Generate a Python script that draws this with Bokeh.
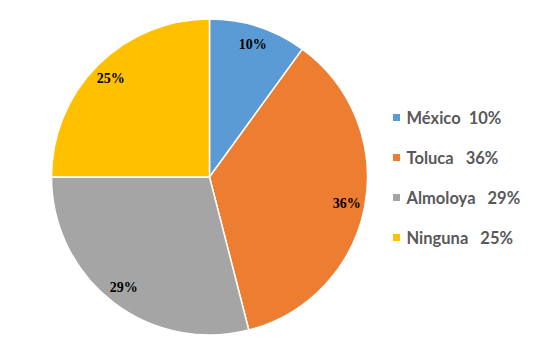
import numpy as np
from bokeh.plotting import figure
from bokeh.embed import file_html
from bokeh.resources import INLINE
from bokeh.core.properties import value

categories = ["México", "Toluca", "Almoloya", "Ninguna"]
percents = [10, 36, 29, 25]
colors = ["#5B9BD5", "#ED7D31", "#A5A5A5", "#FFC000"]
gaps = ["\u00a0\u00a0", "\u00a0\u00a0\u00a0", "\u00a0\u00a0\u00a0", "\u00a0\u00a0\u00a0"]

W, H = 534, 343
p = figure(width=W, height=H, x_range=(0, W), y_range=(0, H),
           output_backend="svg", toolbar_location=None, min_border=0)
p.axis.visible = False
p.grid.visible = False
p.outline_line_color = None
p.background_fill_color = "white"

cx, cy, r = 209, H - 176.5, 158
frac = np.array(percents) / sum(percents)
cum = np.concatenate([[0], np.cumsum(frac)])
start = np.pi / 2 - cum[:-1] * 2 * np.pi
end = np.pi / 2 - cum[1:] * 2 * np.pi
p.wedge(x=cx, y=cy, radius=r, start_angle=start, end_angle=end, direction="clock",
        fill_color=colors, line_color="white", line_width=1.5)

mid = (start + end) / 2
lr = 0.885 * r
p.text(x=cx + lr * np.cos(mid), y=cy + lr * np.sin(mid),
       text=[f"{v}%" for v in percents], text_align="center", text_baseline="middle",
       text_font=value("Liberation Serif"), text_font_style="bold",
       text_font_size="14px", text_color="black")

# legend
ly = [H - 117 - 40 * i for i in range(len(categories))]
p.rect(x=[396] * 4, y=ly, width=7, height=7, fill_color=colors, line_color=None)
p.text(x=[406] * 4, y=ly,
       text=[f"{c}{g}{v}%" for c, g, v in zip(categories, gaps, percents)],
       text_align="left", text_baseline="middle",
       text_font=value("Lato"), text_font_style="bold",
       text_font_size="16.5px", text_color="#595959")

open("out.html", "w").write(file_html(p, INLINE))
